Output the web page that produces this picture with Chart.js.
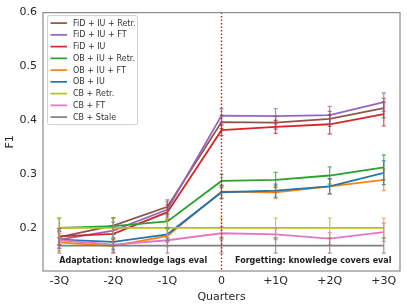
<!DOCTYPE html>
<html>
<head>
<meta charset="utf-8">
<script src="https://cdn.jsdelivr.net/npm/chart.js@4.4.1/dist/chart.umd.min.js"></script>
<style>
  html, body { margin: 0; padding: 0; background: #fff; }
  #wrap { width: 407px; height: 308px; position: relative; }
</style>
</head>
<body>
<div id="wrap"><canvas id="chart" width="407" height="308"></canvas></div>
<script>
// ── Data ───────────────────────────────────────────
const quarters = [-3, -2, -1, 0, 1, 2, 3];
const quarterLabels = ['-3Q', '-2Q', '-1Q', '0', '+1Q', '+2Q', '+3Q'];
const yTicks = [0.2, 0.3, 0.4, 0.5, 0.6];

const seriesNames = [
  'FiD + IU + Retr.', 'FiD + IU + FT', 'FiD + IU',
  'OB + IU + Retr.', 'OB + IU + FT', 'OB + IU',
  'CB + Retr.', 'CB + FT', 'CB + Stale'
];

const fidIuRetr = [0.184, 0.205, 0.240, 0.397, 0.396, 0.403, 0.423];
const fidIuFt   = [0.179, 0.196, 0.235, 0.409, 0.408, 0.410, 0.434];
const fidIu     = [0.185, 0.190, 0.230, 0.382, 0.388, 0.393, 0.412];
const obIuRetr  = [0.201, 0.204, 0.213, 0.288, 0.290, 0.298, 0.313];
const obIuFt    = [0.174, 0.167, 0.186, 0.268, 0.267, 0.278, 0.290];
const obIu      = [0.179, 0.175, 0.189, 0.267, 0.270, 0.278, 0.303];
const cbRetr    = [0.201, 0.201, 0.201, 0.201, 0.201, 0.201, 0.201];
const cbFt      = [0.178, 0.170, 0.178, 0.191, 0.189, 0.181, 0.193];
const cbStale   = [0.168, 0.168, 0.168, 0.168, 0.168, 0.168, 0.168];

const fidIuRetrErr = [0.015, 0.015, 0.013, 0.012, 0.012, 0.014, 0.018];
const fidIuFtErr   = [0.016, 0.016, 0.014, 0.013, 0.014, 0.016, 0.017];
const fidIuErr     = [0.015, 0.015, 0.014, 0.010, 0.012, 0.018, 0.022];
const obIuRetrErr  = [0.018, 0.015, 0.012, 0.012, 0.014, 0.016, 0.023];
const obIuFtErr    = [0.016, 0.012, 0.012, 0.012, 0.012, 0.014, 0.020];
const obIuErr      = [0.016, 0.014, 0.012, 0.012, 0.012, 0.014, 0.022];
const cbRetrErr    = [0.018, 0.018, 0.018, 0.018, 0.018, 0.018, 0.018];
const cbFtErr      = [0.015, 0.012, 0.012, 0.012, 0.010, 0.011, 0.017];
const cbStaleErr   = [0.014, 0.014, 0.014, 0.014, 0.014, 0.014, 0.014];

const seriesValues = [fidIuRetr, fidIuFt, fidIu, obIuRetr, obIuFt, obIu, cbRetr, cbFt, cbStale];
const seriesErrors = [fidIuRetrErr, fidIuFtErr, fidIuErr, obIuRetrErr, obIuFtErr, obIuErr, cbRetrErr, cbFtErr, cbStaleErr];

const COLORS = ['#8c564b', '#9467bd', '#d62728', '#2ca02c', '#ff7f0e', '#1f77b4', '#bcbd22', '#e377c2', '#7f7f7f'];

const FONT = "'DejaVu Sans', sans-serif";

// ── Plugins ────────────────────────────────────────
const errorBars = {
  id: 'errorBars',
  afterDatasetsDraw(chart) {
    const { ctx, scales: { x, y } } = chart;
    ctx.save();
    ctx.lineWidth = 1.3;
    chart.data.datasets.forEach((ds, i) => {
      const errs = seriesErrors[i];
      ctx.strokeStyle = ds.borderColor;
      ctx.globalAlpha = 0.75;
      ds.data.forEach((p, j) => {
        const px = x.getPixelForValue(p.x);
        const top = y.getPixelForValue(p.y + errs[j]);
        const bot = y.getPixelForValue(p.y - errs[j]);
        ctx.beginPath();
        ctx.moveTo(px, top); ctx.lineTo(px, bot);
        ctx.moveTo(px - 2, top); ctx.lineTo(px + 2, top);
        ctx.moveTo(px - 2, bot); ctx.lineTo(px + 2, bot);
        ctx.stroke();
      });
    });
    ctx.restore();
  }
};

const decorations = {
  id: 'decorations',
  afterDraw(chart) {
    const { ctx, chartArea: a, scales: { x, y } } = chart;
    ctx.save();

    // vertical dotted line at 0
    const x0 = x.getPixelForValue(0);
    ctx.strokeStyle = '#ff0000';
    ctx.lineWidth = 1.4;
    ctx.setLineDash([1.5, 2]);
    ctx.beginPath();
    ctx.moveTo(x0, a.top); ctx.lineTo(x0, a.bottom);
    ctx.stroke();
    ctx.setLineDash([]);

    // frame
    ctx.strokeStyle = '#8a8a8a';
    ctx.lineWidth = 1.2;
    ctx.strokeRect(a.left, a.top, a.right - a.left, a.bottom - a.top);

    // phase annotations
    ctx.fillStyle = '#222';
    ctx.font = `bold 8px ${FONT}`;
    ctx.textBaseline = 'middle';
    ctx.textAlign = 'left';
    const ty = y.getPixelForValue(0.139);
    ctx.fillText('Adaptation: knowledge lags eval', x.getPixelForValue(-3), ty);
    ctx.fillText('Forgetting: knowledge covers eval', x.getPixelForValue(0.25), ty);

    // legend box
    const lx = a.left + 4.5, ly = a.top + 3, lw = 90, lh = 109;
    ctx.fillStyle = 'rgba(255,255,255,0.85)';
    ctx.strokeStyle = '#d0d0d0';
    ctx.lineWidth = 1;
    ctx.beginPath();
    ctx.roundRect(lx, ly, lw, lh, 2);
    ctx.fill(); ctx.stroke();

    ctx.font = `8px ${FONT}`;
    seriesNames.forEach((name, i) => {
      const iy = ly + 7.5 + i * 11.75;
      ctx.strokeStyle = COLORS[i];
      ctx.lineWidth = 1.7;
      ctx.beginPath();
      ctx.moveTo(lx + 3, iy); ctx.lineTo(lx + 19.5, iy);
      ctx.stroke();
      ctx.fillStyle = '#333';
      ctx.fillText(name, lx + 25.5, iy + 0.5);
    });

    ctx.restore();
  }
};

// ── Chart ──────────────────────────────────────────
const datasets = seriesNames.map((name, i) => ({
  label: name,
  data: quarters.map((q, j) => ({ x: q, y: seriesValues[i][j] })),
  borderColor: COLORS[i],
  backgroundColor: COLORS[i],
  borderWidth: 1.8,
  pointRadius: 0,
  tension: 0,
  fill: false,
  order: seriesNames.length - i,
}));

new Chart(document.getElementById('chart'), {
  type: 'line',
  data: { datasets },
  options: {
    responsive: false,
    animation: false,
    layout: { padding: { top: 10.5, right: 7, left: 0, bottom: 0 } },
    plugins: {
      legend: { display: false },
      tooltip: { enabled: false },
    },
    scales: {
      x: {
        type: 'linear',
        min: -3.3, max: 3.3,
        afterBuildTicks: s => { s.ticks = quarters.map(v => ({ value: v })); },
        afterFit: s => { s.height = 37; },
        grid: { display: false, drawTicks: false },
        border: { display: false },
        ticks: {
          color: '#262626',
          font: { family: FONT, size: 11 },
          padding: 3.5,
          maxRotation: 0,
          callback: v => quarterLabels[quarters.indexOf(v)],
        },
        title: {
          display: true, text: 'Quarters', color: '#262626',
          font: { family: FONT, size: 11 },
          padding: { top: 0, bottom: 4.4 },
        },
      },
      y: {
        min: 0.121, max: 0.6,
        afterBuildTicks: s => { s.ticks = yTicks.map(v => ({ value: v })); },
        afterFit: s => { s.width = 43; },
        grid: { display: false, drawTicks: false },
        border: { display: false },
        ticks: {
          color: '#262626',
          font: { family: FONT, size: 11 },
          padding: 6,
          callback: v => v.toFixed(1),
        },
        title: {
          display: true, text: 'F1', color: '#262626',
          font: { family: FONT, size: 11 },
          padding: { top: 4, bottom: 0 },
        },
      },
    },
  },
  plugins: [errorBars, decorations],
});
</script>
</body>
</html>
